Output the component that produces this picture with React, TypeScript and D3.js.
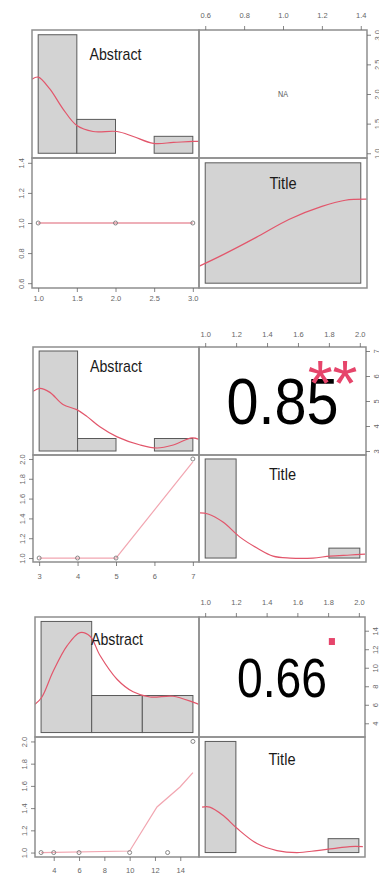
import * as d3 from "d3";
import { useEffect, useRef } from "react";

// ---------- panel 1 data ----------
const p1AbstractRange = [1, 3];
const p1TitleRange = [0.6, 1.4];
const p1AbstractTicks = [1.0, 1.5, 2.0, 2.5, 3.0];
const p1TitleTicks = [0.6, 0.8, 1.0, 1.2, 1.4];
const p1AbstractBreaks = [1.0, 1.5, 2.0, 2.5, 3.0];
const p1AbstractCounts = [7, 2, 0, 1];
const p1AbstractDensX = [0.92, 1.0, 1.15, 1.32, 1.5, 1.71, 2.02, 2.23, 2.49, 2.75, 3.0, 3.08];
const p1AbstractDensY = [0.875, 0.9, 0.76, 0.525, 0.327, 0.257, 0.257, 0.198, 0.117, 0.128, 0.14, 0.14];
const p1TitleBreaks = [0.6, 1.4];
const p1TitleCounts = [1];
const p1TitleDensX = [0.56, 0.69, 0.86, 1.03, 1.2, 1.32, 1.43];
const p1TitleDensY = [0.168, 0.294, 0.473, 0.662, 0.798, 0.861, 0.872];
const p1PointsAbstract = [1, 2, 3];
const p1PointsTitle = [1, 1, 1];
const p1SmoothX = [1, 2, 3];
const p1SmoothY = [1, 1, 1];
const p1Corr = "NA";
const p1Stars = "";

// ---------- panel 2 data ----------
const p2AbstractRange = [3, 7];
const p2TitleRange = [1, 2];
const p2AbstractTicks = [3, 4, 5, 6, 7];
const p2TitleTicks = [1.0, 1.2, 1.4, 1.6, 1.8, 2.0];
const p2AbstractBreaks = [3, 4, 5, 6, 7];
const p2AbstractCounts = [8, 1, 0, 1];
const p2AbstractDensX = [2.84, 3.02, 3.28, 3.62, 3.98, 4.25, 4.58, 5.03, 5.63, 6.07, 6.49, 6.98, 7.19];
const p2AbstractDensY = [0.477, 0.501, 0.469, 0.372, 0.331, 0.275, 0.194, 0.113, 0.048, 0.024, 0.048, 0.105, 0.089];
const p2TitleBreaks = [1.0, 1.2, 1.4, 1.6, 1.8, 2.0];
const p2TitleCounts = [10, 0, 0, 0, 1];
const p2TitleDensX = [0.966, 1.018, 1.115, 1.225, 1.335, 1.439, 1.549, 1.697, 1.807, 1.937, 2.034];
const p2TitleDensY = [2.07, 2.02, 1.65, 0.96, 0.46, 0.09, 0.0, 0.0, 0.09, 0.14, 0.18];
const p2PointsAbstract = [3, 4, 5, 7];
const p2PointsTitle = [1, 1, 1, 2];
const p2SmoothX = [3, 4, 5, 7];
const p2SmoothY = [1, 1, 1, 1.97];
const p2Corr = "0.85";
const p2Stars = "**";

// ---------- panel 3 data ----------
const p3AbstractRange = [3, 15];
const p3TitleRange = [1, 2];
const p3AbstractTicks = [4, 6, 8, 10, 12, 14];
const p3TitleTicks = [1.0, 1.2, 1.4, 1.6, 1.8, 2.0];
const p3AbstractBreaks = [3, 7, 11, 15];
const p3AbstractCounts = [6, 2, 2];
const p3AbstractDensX = [2.52, 3.07, 3.94, 5.05, 6.08, 6.87, 7.66, 9.0, 10.27, 11.61, 13.43, 15.01, 15.48];
const p3AbstractDensY = [0.038, 0.048, 0.082, 0.117, 0.135, 0.13, 0.104, 0.072, 0.055, 0.048, 0.049, 0.041, 0.038];
const p3TitleBreaks = [1.0, 1.2, 1.4, 1.6, 1.8, 2.0];
const p3TitleCounts = [8, 0, 0, 0, 1];
const p3TitleDensX = [0.98, 1.03, 1.116, 1.207, 1.337, 1.467, 1.597, 1.728, 1.832, 1.942, 2.026];
const p3TitleDensY = [1.82, 1.82, 1.49, 0.97, 0.36, 0.08, 0.0, 0.08, 0.16, 0.24, 0.24];
const p3PointsAbstract = [3, 4, 6, 10, 13, 15];
const p3PointsTitle = [1, 1, 1, 1, 1, 2];
const p3SmoothX = [3, 10, 12.16, 13.98, 15];
const p3SmoothY = [1, 1.014, 1.41, 1.59, 1.72];
const p3Corr = "0.66";
const p3Stars = ".";

const FONT = "'Liberation Sans', Arial, Helvetica, sans-serif";
const RED = "#e2566b";

type Box = { x0: number; xm: number; x1: number; y0: number; ym: number; y1: number };
type Panel = {
  box: Box;
  absRange: number[]; titleRange: number[];
  absTicks: number[]; titleTicks: number[];
  absFmt: string; titleFmt: string;
  absBreaks: number[]; absCounts: number[]; absDensX: number[]; absDensY: number[];
  titleBreaks: number[]; titleCounts: number[]; titleDensX: number[]; titleDensY: number[];
  ptsX: number[]; ptsY: number[]; smoothX: number[]; smoothY: number[];
  smoothColor: string;
  corr: string; corrSize: number; corrWidth: number; stars: string;
  topGap: number; bottomGap: number; leftGap: number;
};

const pad = (r: number[]) => {
  const [a, b] = d3.extent(r) as [number, number];
  return [a - 0.04 * (b - a), b + 0.04 * (b - a)];
};

export default function App() {
  const svgRef = useRef<SVGSVGElement | null>(null);
  useEffect(() => {
    if (!svgRef.current) return;
    drawAll(svgRef.current);
  }, []);
  return (
    <svg
      ref={svgRef}
      width={379}
      height={874}
      style={{ position: "absolute", left: 0, top: 0, background: "#fff" }}
    />
  );
}

function drawAll(svgElement: SVGSVGElement) {
  const svg = d3.select(svgElement);
  svg.selectAll("*").remove();

  const panels: Panel[] = [
    {
      box: { x0: 32, xm: 199, x1: 367, y0: 30, ym: 158, y1: 288 },
      absRange: p1AbstractRange, titleRange: p1TitleRange,
      absTicks: p1AbstractTicks, titleTicks: p1TitleTicks,
      absFmt: ".1f", titleFmt: ".1f",
      absBreaks: p1AbstractBreaks, absCounts: p1AbstractCounts,
      absDensX: p1AbstractDensX, absDensY: p1AbstractDensY,
      titleBreaks: p1TitleBreaks, titleCounts: p1TitleCounts,
      titleDensX: p1TitleDensX, titleDensY: p1TitleDensY,
      ptsX: p1PointsAbstract, ptsY: p1PointsTitle,
      smoothX: p1SmoothX, smoothY: p1SmoothY, smoothColor: "#de6072",
      corr: p1Corr, corrSize: 9, corrWidth: 10, stars: p1Stars,
      topGap: 12, bottomGap: 13, leftGap: 8,
    },
    {
      box: { x0: 33, xm: 199, x1: 366, y0: 347, ym: 455, y1: 562 },
      absRange: p2AbstractRange, titleRange: p2TitleRange,
      absTicks: p2AbstractTicks, titleTicks: p2TitleTicks,
      absFmt: "d", titleFmt: ".1f",
      absBreaks: p2AbstractBreaks, absCounts: p2AbstractCounts,
      absDensX: p2AbstractDensX, absDensY: p2AbstractDensY,
      titleBreaks: p2TitleBreaks, titleCounts: p2TitleCounts,
      titleDensX: p2TitleDensX, titleDensY: p2TitleDensY,
      ptsX: p2PointsAbstract, ptsY: p2PointsTitle,
      smoothX: p2SmoothX, smoothY: p2SmoothY, smoothColor: "#f2a6b1",
      corr: p2Corr, corrSize: 64, corrWidth: 112, stars: p2Stars,
      topGap: 10, bottomGap: 17, leftGap: 8,
    },
    {
      box: { x0: 35, xm: 199, x1: 365, y0: 617, ym: 737, y1: 857 },
      absRange: p3AbstractRange, titleRange: p3TitleRange,
      absTicks: p3AbstractTicks, titleTicks: p3TitleTicks,
      absFmt: "d", titleFmt: ".1f",
      absBreaks: p3AbstractBreaks, absCounts: p3AbstractCounts,
      absDensX: p3AbstractDensX, absDensY: p3AbstractDensY,
      titleBreaks: p3TitleBreaks, titleCounts: p3TitleCounts,
      titleDensX: p3TitleDensX, titleDensY: p3TitleDensY,
      ptsX: p3PointsAbstract, ptsY: p3PointsTitle,
      smoothX: p3SmoothX, smoothY: p3SmoothY, smoothColor: "#f2a6b1",
      corr: p3Corr, corrSize: 56, corrWidth: 90, stars: p3Stars,
      topGap: 12, bottomGap: 16, leftGap: 8,
    },
  ];

  panels.forEach((p, i) => drawPanel(svg.append("g"), p, i));
}

function drawHist(
  g: d3.Selection<SVGGElement, unknown, null, undefined>,
  id: string,
  breaks: number[], counts: number[], densX: number[], densY: number[],
  xr: number[], top: number, bottom: number,
  label: string, labelWidth: number
) {
  const n = d3.sum(counts);
  const bins = counts.map((c, i) => ({
    a: breaks[i], b: breaks[i + 1], d: c / (n * (breaks[i + 1] - breaks[i])),
  }));
  const x = d3.scaleLinear().domain(pad(breaks)).range(xr);
  const y = d3.scaleLinear().domain(pad([0, d3.max(bins, (d) => d.d)!])).range([bottom, top]);

  g.append("clipPath").attr("id", id)
    .append("rect").attr("x", xr[0]).attr("y", top).attr("width", xr[1] - xr[0]).attr("height", bottom - top);

  g.append("g").selectAll("rect")
    .data(bins.filter((b) => b.d > 0))
    .join("rect")
    .attr("x", (d) => x(d.a))
    .attr("y", (d) => y(d.d))
    .attr("width", (d) => x(d.b) - x(d.a))
    .attr("height", (d) => y(0) - y(d.d))
    .attr("fill", "#d3d3d3")
    .attr("stroke", "#5a5a5a")
    .attr("stroke-width", 1);

  const line = d3.line<number>()
    .x((_, i) => x(densX[i]))
    .y((d) => y(d))
    .curve(d3.curveCatmullRom);
  g.append("path")
    .attr("clip-path", `url(#${id})`)
    .attr("d", line(densY))
    .attr("fill", "none")
    .attr("stroke", RED)
    .attr("stroke-width", 1.2);

  const h = bottom - top;
  g.append("text")
    .attr("x", (xr[0] + xr[1]) / 2)
    .attr("y", top + 0.235 * h)
    .attr("text-anchor", "middle")
    .attr("font-family", FONT)
    .attr("font-size", 17)
    .attr("fill", "#1a1a1a")
    .attr("textLength", labelWidth)
    .attr("lengthAdjust", "spacingAndGlyphs")
    .text(label);
}

function drawPanel(g: d3.Selection<SVGGElement, unknown, null, undefined>, p: Panel, idx: number) {
  const { x0, xm, x1, y0, ym, y1 } = p.box;
  const xAbs = d3.scaleLinear().domain(pad(p.absRange)).range([x0, xm]);
  const yAbs = d3.scaleLinear().domain(pad(p.absRange)).range([ym, y0]);
  const xTit = d3.scaleLinear().domain(pad(p.titleRange)).range([xm, x1]);
  const yTit = d3.scaleLinear().domain(pad(p.titleRange)).range([y1, ym]);

  // diagonal histograms
  drawHist(g, `clipA${idx}`, p.absBreaks, p.absCounts, p.absDensX, p.absDensY,
    [x0, xm], y0, ym, "Abstract", 52);
  drawHist(g, `clipT${idx}`, p.titleBreaks, p.titleCounts, p.titleDensX, p.titleDensY,
    [xm, x1], ym, y1, "Title", 27);

  // correlation cell
  const cx = (xm + x1) / 2;
  const cy = (y0 + ym) / 2;
  g.append("text")
    .attr("x", cx)
    .attr("y", cy + 0.358 * p.corrSize)
    .attr("text-anchor", "middle")
    .attr("font-family", FONT)
    .attr("font-size", p.corrSize)
    .attr("fill", p.corr === "NA" ? "#555" : "#000")
    .attr("textLength", p.corrWidth)
    .attr("lengthAdjust", "spacingAndGlyphs")
    .text(p.corr);
  if (p.stars) {
    const sx = xm + 0.8 * (x1 - xm);
    const sy = ym - 0.8 * (ym - y0);
    g.append("text")
      .attr("x", sx)
      .attr("y", sy + (p.stars === "." ? 0.055 : 0.58) * 64)
      .attr("text-anchor", "middle")
      .attr("font-family", FONT)
      .attr("font-size", 64)
      .attr("fill", "#e6456b")
      .text(p.stars);
  }

  // scatter cell
  const clipS = `clipS${idx}`;
  g.append("clipPath").attr("id", clipS)
    .append("rect").attr("x", x0).attr("y", ym).attr("width", xm - x0).attr("height", y1 - ym);
  const smooth = d3.line<number>()
    .x((_, i) => xAbs(p.smoothX[i]))
    .y((d) => yTit(d));
  g.append("path")
    .attr("clip-path", `url(#${clipS})`)
    .attr("d", smooth(p.smoothY))
    .attr("fill", "none")
    .attr("stroke", p.smoothColor)
    .attr("stroke-width", 1.2);
  g.append("g").selectAll("circle")
    .data(p.ptsX)
    .join("circle")
    .attr("cx", (d) => xAbs(d))
    .attr("cy", (_, i) => yTit(p.ptsY[i]))
    .attr("r", 2)
    .attr("fill", "none")
    .attr("stroke", "#7a7a7a")
    .attr("stroke-width", 0.9);

  // cell frames
  const frames = [
    [x0, y0, xm, ym], [xm, y0, x1, ym], [x0, ym, xm, y1], [xm, ym, x1, y1],
  ];
  g.append("g").selectAll("rect")
    .data(frames)
    .join("rect")
    .attr("x", (d) => d[0])
    .attr("y", (d) => d[1])
    .attr("width", (d) => d[2] - d[0])
    .attr("height", (d) => d[3] - d[1])
    .attr("fill", "none")
    .attr("stroke", "#8e8e8e")
    .attr("stroke-width", 1.5);

  // axes
  const styleAxis = (a: d3.Selection<SVGGElement, unknown, null, undefined>) => {
    a.select(".domain").remove();
    a.selectAll("line").attr("stroke", "#666").attr("stroke-width", 0.8);
    a.selectAll("text")
      .attr("font-family", FONT)
      .attr("font-size", 7.5)
      .attr("fill", "#666");
  };

  const top = g.append("g")
    .attr("transform", `translate(0,${y0})`)
    .call(d3.axisTop(xTit).tickValues(p.titleTicks).tickSize(4).tickFormat(d3.format(p.titleFmt)) as any);
  styleAxis(top);
  top.selectAll("text").attr("y", -p.topGap).attr("dy", 0);

  const bottom = g.append("g")
    .attr("transform", `translate(0,${y1})`)
    .call(d3.axisBottom(xAbs).tickValues(p.absTicks).tickSize(4).tickFormat(d3.format(p.absFmt)) as any);
  styleAxis(bottom);
  bottom.selectAll("text").attr("y", p.bottomGap).attr("dy", 0);

  const left = g.append("g")
    .attr("transform", `translate(${x0},0)`)
    .call(d3.axisLeft(yTit).tickValues(p.titleTicks).tickSize(4).tickFormat(d3.format(p.titleFmt)) as any);
  styleAxis(left);
  left.selectAll("text")
    .attr("transform", "rotate(-90)")
    .attr("x", 0)
    .attr("y", -p.leftGap)
    .attr("dy", 0)
    .attr("text-anchor", "middle");

  const right = g.append("g")
    .attr("transform", `translate(${x1},0)`)
    .call(d3.axisRight(yAbs).tickValues(p.absTicks).tickSize(4).tickFormat(d3.format(p.absFmt)) as any);
  styleAxis(right);
  right.selectAll("text")
    .attr("transform", "rotate(-90)")
    .attr("x", 0)
    .attr("y", 13)
    .attr("dy", 0)
    .attr("text-anchor", "middle");
}
